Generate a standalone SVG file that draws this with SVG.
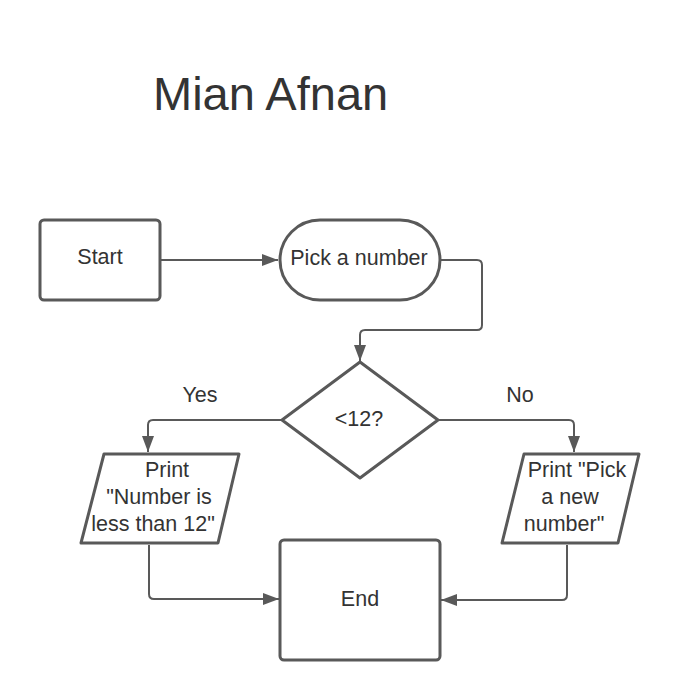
<svg xmlns="http://www.w3.org/2000/svg" width="680" height="700" viewBox="0 0 680 700">
<style>
.shape{fill:#ffffff;stroke:#595959;stroke-width:3;stroke-linejoin:round}
.conn{fill:none;stroke:#595959;stroke-width:2;stroke-linejoin:round}
.t{font-family:"Liberation Sans",Arial,sans-serif;font-size:21.5px;fill:#333333;text-anchor:middle}
.title{font-family:"Liberation Sans",Arial,sans-serif;font-size:47px;fill:#333333}
</style>
<defs>
<marker id="arr" markerUnits="userSpaceOnUse" markerWidth="18" markerHeight="14" refX="16" refY="6" orient="auto">
<path d="M0,0 L16,6 L0,12 Z" fill="#595959"/>
</marker>
</defs>
<rect width="680" height="700" fill="#ffffff"/>
<text class="title" x="153" y="110">Mian Afnan</text>
<g id="connectors">
<path class="conn" d="M161,260 H278" marker-end="url(#arr)"/>
<path class="conn" d="M440,260 H477 Q482,260 482,265 V325 Q482,330 477,330 H365 Q360,330 360,335 V361" marker-end="url(#arr)"/>
<path class="conn" d="M282,420 H153 Q148,420 148,425 V452" marker-end="url(#arr)"/>
<path class="conn" d="M438,420 H569 Q574,420 574,425 V452" marker-end="url(#arr)"/>
<path class="conn" d="M149,545 V594 Q149,599 154,599 H279" marker-end="url(#arr)"/>
<path class="conn" d="M567,545 V595 Q567,600 562,600 H441" marker-end="url(#arr)"/>
</g>
<g id="node-start">
<rect class="shape" x="40" y="220" width="120" height="80" rx="4"/>
<text class="t" x="100" y="264">Start</text>
</g>
<g id="node-pick">
<rect class="shape" x="280" y="220" width="160" height="80" rx="40"/>
<text class="t" x="359" y="265">Pick a number</text>
</g>
<g id="node-decision">
<path class="shape" d="M360,362 L438,420 L360,478 L282,420 Z"/>
<text class="t" x="359" y="426">&lt;12?</text>
</g>
<g id="label-yes"><text class="t" x="200" y="402">Yes</text></g>
<g id="label-no"><text class="t" x="520" y="402">No</text></g>
<g id="node-print-yes">
<path class="shape" d="M104,454 H239 L218,543 H81 Z"/>
<text class="t" x="167" y="477">Print</text>
<text class="t" x="159" y="504">"Number is</text>
<text class="t" x="153" y="531">less than 12"</text>
</g>
<g id="node-print-no">
<path class="shape" d="M524,454 H639 L618,543 H502 Z"/>
<text class="t" x="577" y="477">Print "Pick</text>
<text class="t" x="570" y="504">a new</text>
<text class="t" x="564" y="531">number"</text>
</g>
<g id="node-end">
<rect class="shape" x="280" y="540" width="160" height="120" rx="4"/>
<text class="t" x="360" y="606">End</text>
</g>
</svg>
